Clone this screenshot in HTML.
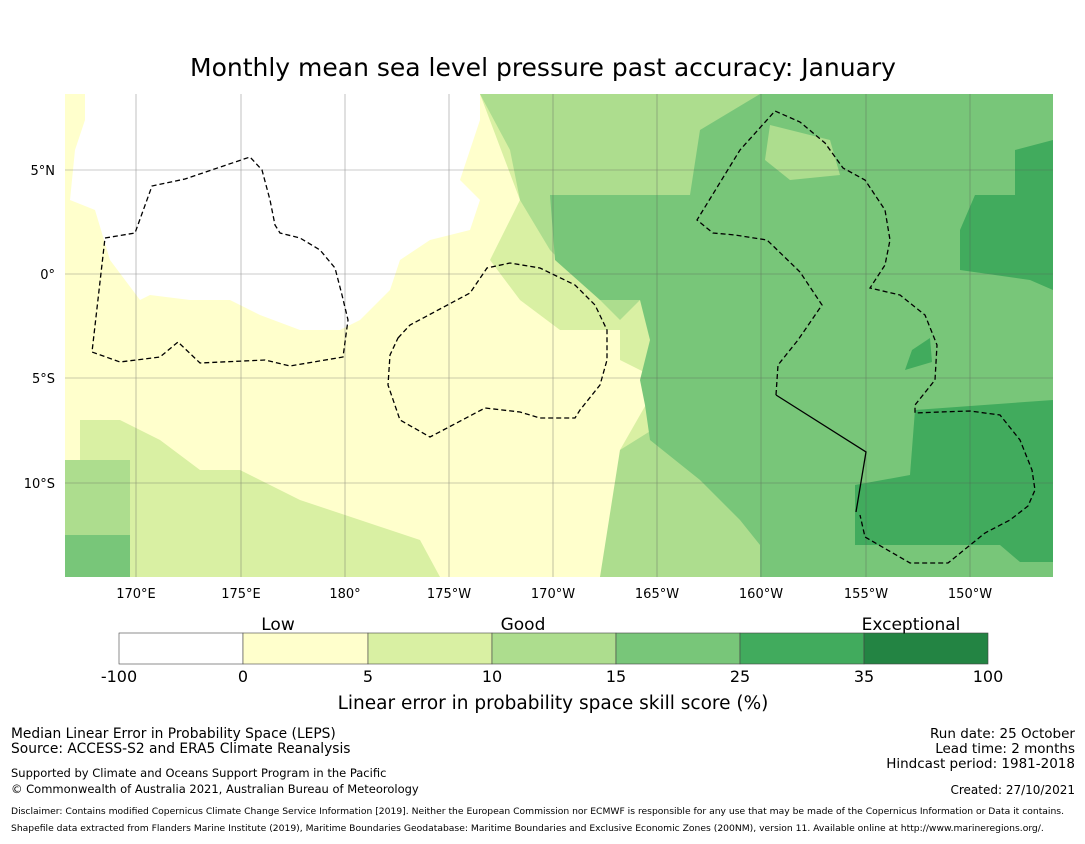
<!DOCTYPE html>
<html><head><meta charset="utf-8"><style>
body{margin:0;background:#fff;font-family:"Liberation Sans","DejaVu Sans",sans-serif}
svg text{font-family:"DejaVu Sans","Liberation Sans",sans-serif}
</style></head><body>
<svg width="1085" height="839" viewBox="0 0 1085 839" xmlns="http://www.w3.org/2000/svg">
<text x="543" y="76" font-size="25" text-anchor="middle">Monthly mean sea level pressure past accuracy: January</text>
<defs><clipPath id="mc"><rect x="65" y="94" width="988" height="483"/></clipPath></defs>
<g clip-path="url(#mc)">
<rect x="65" y="94" width="988" height="483" fill="#d9f0a3"/>
<polygon fill="#ffffcc" points="65,94 480,94 520,200 490,260 520,300 560,330 620,330 620,360 660,380 620,450 640,480 600,577 440,577 420,540 360,520 300,500 240,470 200,470 160,440 120,420 65,420"/>
<polygon fill="#ffffcc" points="65,410 80,410 80,460 65,460"/>
<polygon fill="#addd8e" points="65,460 130,460 130,577 65,577"/>
<polygon fill="#78c679" points="65,535 130,535 130,577 65,577"/>
<polygon fill="#ffffff" points="85,94 480,94 480,120 460,180 480,200 470,230 430,240 400,260 390,290 360,320 340,330 300,330 260,315 230,300 190,300 150,295 140,300 110,260 95,210 70,200 75,150 85,120"/>
<polygon fill="#addd8e" points="480,94 760,94 760,120 700,150 690,230 640,300 620,320 600,300 550,250 520,200 510,150"/>
<polygon fill="#addd8e" points="620,450 700,400 760,420 760,577 600,577"/>
<polygon fill="#78c679" points="550,195 690,195 700,130 760,94 1053,94 1053,577 760,577 760,545 740,520 700,480 650,440 645,405 640,380 650,340 640,300 600,300 555,260"/>
<polygon fill="#addd8e" points="770,125 830,140 840,175 790,180 765,160"/>
<polygon fill="#41ab5d" points="1015,150 1053,140 1053,290 1030,280 960,270 960,230 975,195 1015,195"/>
<polygon fill="#41ab5d" points="855,485 910,475 915,410 1053,400 1053,562 1020,562 1000,545 855,545"/>
<polygon fill="#41ab5d" points="912,350 930,338 932,362 905,370"/>
<g stroke="#555" stroke-width="0.6" opacity="0.6">
<line x1="136" y1="94" x2="136" y2="577"/><line x1="241" y1="94" x2="241" y2="577"/><line x1="345" y1="94" x2="345" y2="577"/><line x1="449" y1="94" x2="449" y2="577"/><line x1="553" y1="94" x2="553" y2="577"/><line x1="657" y1="94" x2="657" y2="577"/><line x1="761" y1="94" x2="761" y2="577"/><line x1="866" y1="94" x2="866" y2="577"/><line x1="970" y1="94" x2="970" y2="577"/>
<line x1="65" y1="170" x2="1053" y2="170"/><line x1="65" y1="274" x2="1053" y2="274"/><line x1="65" y1="378" x2="1053" y2="378"/><line x1="65" y1="483" x2="1053" y2="483"/>
</g>
<g fill="none" stroke="#000" stroke-width="1.3" stroke-dasharray="5,3">
<polygon points="105,238 135,233 152,186 185,179 250,157 262,170 270,200 275,225 280,233 300,238 320,250 335,268 342,295 348,320 343,357 290,366 265,360 200,363 178,342 160,357 120,362 92,352"/>
<polygon points="398,338 410,325 470,293 487,268 510,263 540,268 575,285 595,305 607,330 607,360 600,385 580,410 575,418 540,418 520,412 485,408 430,437 400,420 388,385 390,355"/>
<polyline points="776,395 778,365 798,340 822,305 800,272 767,240 735,235 713,233 697,220 740,150 775,111 800,122 825,143 843,168 865,180 885,210 890,240 885,265 870,288 900,295 925,315 937,345 935,380 915,405 915,413 940,412 970,411 1000,415 1020,440 1032,470 1035,490 1028,506 1010,520 985,533 948,563 910,563 865,537 860,515"/>
</g>
<polyline points="776,395 866,452 856,512" fill="none" stroke="#000" stroke-width="1.3"/>
</g>
<g font-size="13" text-anchor="middle">
<text x="136" y="598">170°E</text><text x="241" y="598">175°E</text><text x="345" y="598">180°</text><text x="449" y="598">175°W</text><text x="553" y="598">170°W</text><text x="657" y="598">165°W</text><text x="761" y="598">160°W</text><text x="866" y="598">155°W</text><text x="970" y="598">150°W</text>
</g>
<g font-size="13" text-anchor="end">
<text x="55" y="175">5°N</text><text x="55" y="279">0°</text><text x="55" y="383">5°S</text><text x="55" y="488">10°S</text>
</g>
<g stroke="#444" stroke-width="0.6">
<rect x="119" y="633" width="124" height="31" fill="#ffffff"/><rect x="243" y="633" width="125" height="31" fill="#ffffcc"/><rect x="368" y="633" width="124" height="31" fill="#d9f0a3"/><rect x="492" y="633" width="124" height="31" fill="#addd8e"/><rect x="616" y="633" width="124" height="31" fill="#78c679"/><rect x="740" y="633" width="124" height="31" fill="#41ab5d"/><rect x="864" y="633" width="124" height="31" fill="#238443"/>
</g>
<g font-size="17" text-anchor="middle">
<text x="278" y="630">Low</text><text x="523" y="630">Good</text><text x="911" y="630">Exceptional</text>
</g>
<g font-size="16" text-anchor="middle">
<text x="119" y="682">-100</text><text x="243" y="682">0</text><text x="368" y="682">5</text><text x="492" y="682">10</text><text x="616" y="682">15</text><text x="740" y="682">25</text><text x="864" y="682">35</text><text x="988" y="682">100</text>
</g>
<text x="553" y="709" font-size="18.5" text-anchor="middle">Linear error in probability space skill score (%)</text>
<g font-size="13.8">
<text x="11" y="738">Median Linear Error in Probability Space (LEPS)</text>
<text x="11" y="753">Source: ACCESS-S2 and ERA5 Climate Reanalysis</text>
<text x="11" y="777" font-size="11.5">Supported by Climate and Oceans Support Program in the Pacific</text>
<text x="11" y="793" font-size="11.5">© Commonwealth of Australia 2021, Australian Bureau of Meteorology</text>
</g>
<g font-size="13.5" text-anchor="end">
<text x="1075" y="738">Run date: 25 October</text>
<text x="1075" y="753">Lead time: 2 months</text>
<text x="1075" y="768">Hindcast period: 1981-2018</text>
<text x="1075" y="794" font-size="12">Created: 27/10/2021</text>
</g>
<g font-size="9.2">
<text x="11" y="814">Disclaimer: Contains modified Copernicus Climate Change Service Information [2019]. Neither the European Commission nor ECMWF is responsible for any use that may be made of the Copernicus Information or Data it contains.</text>
<text x="11" y="831">Shapefile data extracted from Flanders Marine Institute (2019), Maritime Boundaries Geodatabase: Maritime Boundaries and Exclusive Economic Zones (200NM), version 11. Available online at http://www.marineregions.org/.</text>
</g>
</svg>
</body></html>
